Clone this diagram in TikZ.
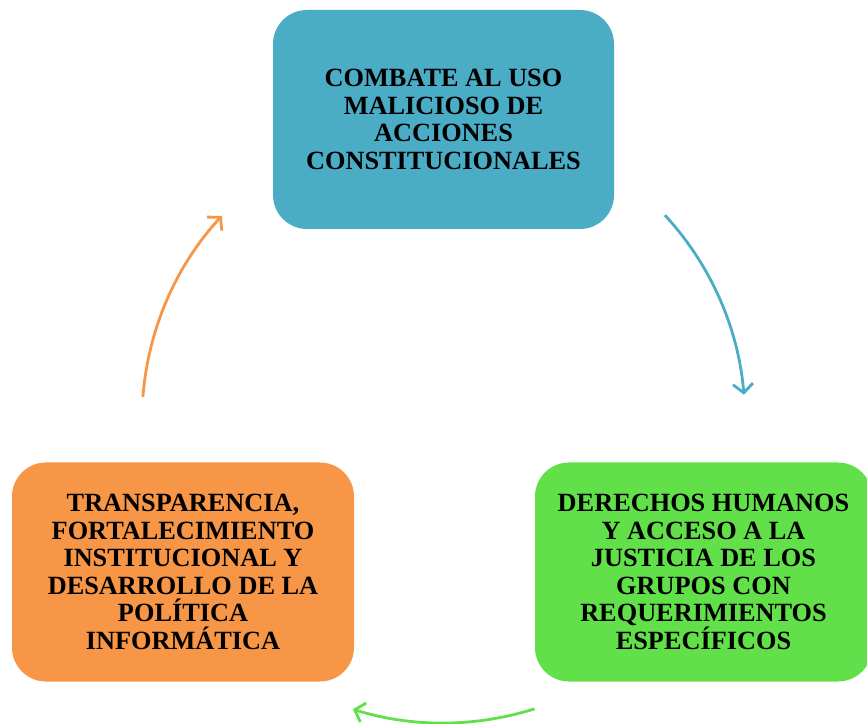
\documentclass[tikz,border=0pt]{standalone}
\usepackage{fontspec}
\setmainfont{Liberation Serif}
\usetikzlibrary{arrows.meta}
\definecolor{cblue}{HTML}{4BACC6}
\definecolor{cgreen}{HTML}{62E04A}
\definecolor{corange}{HTML}{F79646}
\tikzset{
  card/.style={rounded corners=34pt, minimum width=341pt, minimum height=219pt,
    inner sep=0pt, align=center, text=black,
    font=\fontsize{26.3}{27.6}\selectfont\bfseries},
  cyclearrow/.style={line width=2.8pt, -{Straight Barb[length=9pt, width=20pt, line width=2.8pt]}}
}
\begin{document}
\begin{tikzpicture}[x=1pt, y=1pt]
\useasboundingbox (0,0) rectangle (867,723);
% top box: x 273-614, y(img) 10-229
\node[card, fill=cblue] (top) at (443.5,603.5)
  {COMBATE AL USO\\MALICIOSO DE\\ACCIONES\\CONSTITUCIONALES};
% right box
\node[card, fill=cgreen, minimum width=337pt] (right) at (703.5,151)
  {DERECHOS HUMANOS\\Y ACCESO A LA\\JUSTICIA DE LOS\\GRUPOS CON\\REQUERIMIENTOS\\ESPECÍFICOS};
% left box
\node[card, fill=corange, minimum width=342pt] (left) at (183,151)
  {TRANSPARENCIA,\\FORTALECIMIENTO\\INSTITUCIONAL Y\\DESARROLLO DE LA\\POLÍTICA\\INFORMÁTICA};
% cycle arrows on a circle
\coordinate (o) at (443,303);
\coordinate (b1) at ([shift={(42.7:302)}]o);
\coordinate (g1) at ([shift={(-72.4:303)}]o);
\coordinate (r1) at ([shift={(175.6:301)}]o);
\draw[cyclearrow, cblue] (b1) arc[start angle=42.7, end angle=4.8, radius=302];
\draw[cyclearrow, cgreen] (g1) arc[start angle=-72.4, end angle=-107.3, radius=303];
\draw[cyclearrow, corange] (r1) arc[start angle=175.6, end angle=137.3, radius=301];
\end{tikzpicture}
\end{document}
